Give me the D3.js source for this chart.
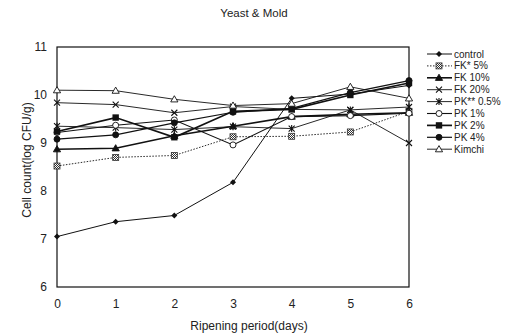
<!DOCTYPE html>
<html>
<head>
<meta charset="utf-8">
<script src="https://cdn.jsdelivr.net/npm/d3@7"></script>
<style>
body { margin: 0; background: #fff; }
text { font-family: "Liberation Sans", Arial, sans-serif; fill: #222; }
</style>
</head>
<body>
<script>
var width = 507,
    height = 336;

var days = [0, 1, 2, 3, 4, 5, 6];
var yTicks = [6, 7, 8, 9, 10, 11];

var seriesNames = ["control", "FK* 5%", "FK 10%", "FK 20%", "PK** 0.5%", "PK 1%", "PK 2%", "PK 4%", "Kimchi"];
var control = [7.05, 7.36, 7.49, 8.18, 9.93, 10.02, 10.20];
var fk5     = [8.52, 8.70, 8.74, 9.13, 9.14, 9.23, 9.66];
var fk10    = [8.87, 8.89, 9.15, 9.35, 9.55, 9.60, 9.63];
var fk20    = [9.84, 9.80, 9.63, 9.76, 9.70, 9.69, 9.00];
var pk05    = [9.35, 9.32, 9.28, 9.34, 9.30, 9.69, 9.75];
var pk1     = [9.22, 9.37, 9.48, 8.96, 9.55, 9.57, 9.62];
var pk2     = [9.24, 9.53, 9.12, 9.66, 9.70, 10.00, 10.25];
var pk4     = [9.08, 9.17, 9.42, 9.64, 9.72, 10.05, 10.30];
var kimchi  = [10.10, 10.09, 9.91, 9.78, 9.82, 10.17, 9.93];

var values = [control, fk5, fk10, fk20, pk05, pk1, pk2, pk4, kimchi];
// marker, line width, dash
var styles = [
  {m: "diamond", w: 1, dash: null},
  {m: "hatch", w: 0.9, dash: "1.5,1.5"},
  {m: "tri", w: 1.6, dash: null},
  {m: "x", w: 0.9, dash: null},
  {m: "ast", w: 0.9, dash: null},
  {m: "ocircle", w: 1.1, dash: null},
  {m: "square", w: 1.7, dash: null},
  {m: "circle", w: 1.2, dash: null},
  {m: "otri", w: 0.9, dash: null}
];

var x = d3.scaleLinear().domain([0, 6]).range([57, 409]);
var y = d3.scaleLinear().domain([6, 11]).range([287, 47]);

var svg = d3.select("body").append("svg")
    .attr("width", width)
    .attr("height", height);

var defs = svg.append("defs");
var pat = defs.append("pattern")
    .attr("id", "hatch")
    .attr("width", 2).attr("height", 2)
    .attr("patternUnits", "userSpaceOnUse");
pat.append("rect").attr("width", 2).attr("height", 2).attr("fill", "#fff");
pat.append("rect").attr("width", 1).attr("height", 1).attr("fill", "#333");
pat.append("rect").attr("x", 1).attr("y", 1).attr("width", 1).attr("height", 1).attr("fill", "#333");

// frame
svg.append("rect")
    .attr("x", x(0)).attr("y", y(11))
    .attr("width", x(6) - x(0)).attr("height", y(6) - y(11))
    .attr("fill", "none").attr("stroke", "#111").attr("stroke-width", 1.2);

// axes (labels only, no ticks)
var xAxis = svg.append("g")
    .attr("transform", "translate(0," + y(6) + ")")
    .call(d3.axisBottom(x).tickValues(days).tickSize(0).tickPadding(12).tickFormat(d3.format("d")));
var yAxis = svg.append("g")
    .attr("transform", "translate(" + x(0) + ",0)")
    .call(d3.axisLeft(y).tickValues(yTicks).tickSize(0).tickPadding(10).tickFormat(d3.format("d")));
svg.selectAll(".domain").remove();
svg.selectAll(".tick text").attr("font-size", 12).attr("font-family", "Liberation Sans, Arial, sans-serif").attr("fill", "#222");

svg.append("text").attr("x", 254).attr("y", 17).attr("text-anchor", "middle")
    .attr("font-size", 11.5).text("Yeast & Mold");
svg.append("text").attr("x", 249).attr("y", 330).attr("text-anchor", "middle")
    .attr("font-size", 12).text("Ripening period(days)");
svg.append("text").attr("transform", "translate(31,160) rotate(-90)").attr("text-anchor", "middle")
    .attr("font-size", 12).text("Cell count(log CFU/g)");

function drawMarker(g, type, cx, cy) {
  if (type === "diamond") {
    g.append("path").attr("d", "M" + cx + "," + (cy - 3) + "L" + (cx + 3) + "," + cy + "L" + cx + "," + (cy + 3) + "L" + (cx - 3) + "," + cy + "Z").attr("fill", "#111");
  } else if (type === "hatch") {
    g.append("rect").attr("x", cx - 3).attr("y", cy - 3).attr("width", 6).attr("height", 6)
      .attr("fill", "url(#hatch)").attr("stroke", "#333").attr("stroke-width", 0.8);
  } else if (type === "tri" || type === "otri") {
    g.append("path").attr("d", "M" + cx + "," + (cy - 3.6) + "L" + (cx + 3.6) + "," + (cy + 2.6) + "L" + (cx - 3.6) + "," + (cy + 2.6) + "Z")
      .attr("fill", type === "tri" ? "#111" : "#fff").attr("stroke", "#111").attr("stroke-width", 0.9);
  } else if (type === "x") {
    g.append("path").attr("d", "M" + (cx - 3) + "," + (cy - 3) + "L" + (cx + 3) + "," + (cy + 3) + "M" + (cx + 3) + "," + (cy - 3) + "L" + (cx - 3) + "," + (cy + 3))
      .attr("stroke", "#111").attr("stroke-width", 1.1);
  } else if (type === "ast") {
    g.append("path").attr("d", "M" + (cx - 3) + "," + (cy - 3) + "L" + (cx + 3) + "," + (cy + 3) + "M" + (cx + 3) + "," + (cy - 3) + "L" + (cx - 3) + "," + (cy + 3) + "M" + cx + "," + (cy - 3.5) + "L" + cx + "," + (cy + 3.5))
      .attr("stroke", "#111").attr("stroke-width", 1.1);
  } else if (type === "ocircle" || type === "circle") {
    g.append("circle").attr("cx", cx).attr("cy", cy).attr("r", 3)
      .attr("fill", type === "circle" ? "#111" : "#fff").attr("stroke", "#111").attr("stroke-width", 0.9);
  } else if (type === "square") {
    g.append("rect").attr("x", cx - 3.2).attr("y", cy - 3.2).attr("width", 6.4).attr("height", 6.4).attr("fill", "#111");
  }
}

var line = d3.line()
    .x(function(d, i) { return x(days[i]); })
    .y(function(d) { return y(d); });

values.forEach(function(vals, k) {
  var st = styles[k];
  svg.append("path")
    .attr("d", line(vals))
    .attr("fill", "none")
    .attr("stroke", "#111")
    .attr("stroke-width", st.w)
    .attr("stroke-dasharray", st.dash);
});

values.forEach(function(vals, k) {
  var g = svg.append("g");
  vals.forEach(function(v, i) {
    drawMarker(g, styles[k].m, x(days[i]), y(v));
  });
});

// legend
var legend = svg.append("g");
seriesNames.forEach(function(name, k) {
  var ly = 54 + k * 11.9;
  legend.append("line")
    .attr("x1", 427).attr("x2", 452).attr("y1", ly).attr("y2", ly)
    .attr("stroke", "#111").attr("stroke-width", styles[k].w)
    .attr("stroke-dasharray", styles[k].dash);
  drawMarker(legend, styles[k].m, 439, ly);
  legend.append("text").attr("x", 454).attr("y", ly + 3.5)
    .attr("font-size", 10).text(name);
});
</script>
</body>
</html>
